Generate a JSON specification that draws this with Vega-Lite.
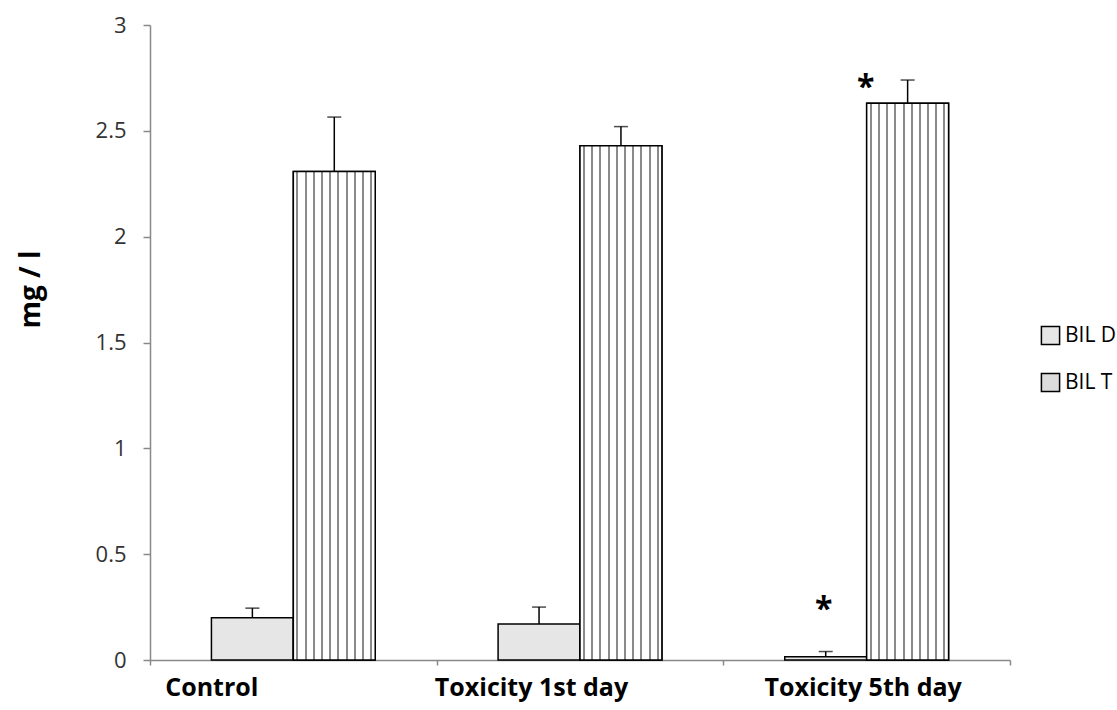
{
  "$schema": "https://vega.github.io/schema/vega-lite/v6.json",
  "width": 860,
  "height": 635,
  "autosize": {"type": "none"},
  "padding": {"left": 150, "top": 25, "right": 107, "bottom": 50},
  "background": "white",
  "config": {
    "view": {"stroke": null},
    "font": "Open Sans"
  },
  "data": {
    "values": [
      {"group": "Control", "series": "BIL D", "value": 0.2, "err_top": 0.245, "sig": "", "sig_y": null},
      {"group": "Control", "series": "BIL T", "value": 2.308, "err_top": 2.565, "sig": "", "sig_y": null},
      {"group": "Toxicity 1st day", "series": "BIL D", "value": 0.17, "err_top": 0.25, "sig": "", "sig_y": null},
      {"group": "Toxicity 1st day", "series": "BIL T", "value": 2.43, "err_top": 2.52, "sig": "", "sig_y": null},
      {"group": "Toxicity 5th day", "series": "BIL D", "value": 0.015, "err_top": 0.04, "sig": "*", "sig_y": 0.189},
      {"group": "Toxicity 5th day", "series": "BIL T", "value": 2.63, "err_top": 2.74, "sig": "*", "sig_y": 2.655}
    ]
  },
  "encoding": {
    "x": {
      "field": "group",
      "type": "nominal",
      "sort": ["Control", "Toxicity 1st day", "Toxicity 5th day"],
      "scale": {"paddingInner": 0, "paddingOuter": 0},
      "axis": {
        "title": null,
        "labelAngle": 0,
        "labelLimit": 0,
        "labelFont": "Open Sans",
        "labelFontSize": 25,
        "labelFontWeight": "bold",
        "labelColor": "#000000",
        "labelPadding": 10,
        "labelOffset": {"expr": "datum.label == 'Control' ? -82 : datum.label == 'Toxicity 1st day' ? -49 : -4"},
        "tickBand": "extent",
        "tickSize": 5,
        "tickColor": "#898989",
        "tickWidth": 1.5,
        "domainColor": "#898989",
        "domainWidth": 1.5
      }
    },
    "xOffset": {
      "field": "series",
      "type": "nominal",
      "sort": ["BIL D", "BIL T"],
      "scale": {"paddingInner": 0, "paddingOuter": 0.75}
    }
  },
  "layer": [
    {
      "mark": {"type": "bar", "stroke": "#000000", "strokeWidth": 1.5},
      "encoding": {
        "y": {
          "field": "value",
          "type": "quantitative",
          "scale": {"domain": [0, 3], "nice": false},
          "axis": {
            "values": [0, 0.5, 1, 1.5, 2, 2.5, 3],
            "format": "~g",
            "grid": false,
            "title": "mg / l",
            "titleFont": "Open Sans",
            "titleFontSize": 28,
            "titleFontWeight": "bold",
            "titleColor": "#000000",
            "titleAngle": -90,
            "titleX": -105,
            "titleY": 264,
            "titleAlign": "center",
            "titleBaseline": "bottom",
            "labelFont": "Open Sans",
            "labelFontSize": 22,
            "labelColor": "#333333",
            "labelPadding": 17,
            "tickSize": 7,
            "tickColor": "#898989",
            "tickWidth": 1.5,
            "domainColor": "#898989",
            "domainWidth": 1.5
          }
        },
        "fill": {
          "field": "series",
          "type": "nominal",
          "scale": {"domain": ["BIL D", "BIL T"], "range": ["#e6e6e6", "#dcdcdc"]},
          "legend": {
            "title": null,
            "orient": "none",
            "legendX": 890,
            "legendY": 300,
            "padding": 0,
            "symbolType": "square",
            "symbolSize": 330,
            "symbolStrokeColor": "#000000",
            "symbolStrokeWidth": 1.5,
            "labelFont": "Open Sans",
            "labelFontSize": 21,
            "labelColor": "#000000",
            "labelOffset": 4,
            "rowPadding": 22
          }
        }
      }
    },
    {
      "transform": [{"filter": "datum.series == 'BIL T'"}],
      "mark": {
        "type": "bar",
        "stroke": "#000000",
        "strokeWidth": 1.5,
        "fill": {
          "gradient": "linear", "x1": 0, "y1": 0, "x2": 1, "y2": 0,
          "stops": [
            {"offset": 0, "color": "#ffffff"},
            {"offset": 0.038, "color": "#ffffff"}, {"offset": 0.038, "color": "#8a8a8a"}, {"offset": 0.062, "color": "#8a8a8a"}, {"offset": 0.062, "color": "#ffffff"},
            {"offset": 0.138, "color": "#ffffff"}, {"offset": 0.138, "color": "#8a8a8a"}, {"offset": 0.162, "color": "#8a8a8a"}, {"offset": 0.162, "color": "#ffffff"},
            {"offset": 0.238, "color": "#ffffff"}, {"offset": 0.238, "color": "#8a8a8a"}, {"offset": 0.262, "color": "#8a8a8a"}, {"offset": 0.262, "color": "#ffffff"},
            {"offset": 0.338, "color": "#ffffff"}, {"offset": 0.338, "color": "#8a8a8a"}, {"offset": 0.362, "color": "#8a8a8a"}, {"offset": 0.362, "color": "#ffffff"},
            {"offset": 0.438, "color": "#ffffff"}, {"offset": 0.438, "color": "#8a8a8a"}, {"offset": 0.462, "color": "#8a8a8a"}, {"offset": 0.462, "color": "#ffffff"},
            {"offset": 0.538, "color": "#ffffff"}, {"offset": 0.538, "color": "#8a8a8a"}, {"offset": 0.562, "color": "#8a8a8a"}, {"offset": 0.562, "color": "#ffffff"},
            {"offset": 0.638, "color": "#ffffff"}, {"offset": 0.638, "color": "#8a8a8a"}, {"offset": 0.662, "color": "#8a8a8a"}, {"offset": 0.662, "color": "#ffffff"},
            {"offset": 0.738, "color": "#ffffff"}, {"offset": 0.738, "color": "#8a8a8a"}, {"offset": 0.762, "color": "#8a8a8a"}, {"offset": 0.762, "color": "#ffffff"},
            {"offset": 0.838, "color": "#ffffff"}, {"offset": 0.838, "color": "#8a8a8a"}, {"offset": 0.862, "color": "#8a8a8a"}, {"offset": 0.862, "color": "#ffffff"},
            {"offset": 0.938, "color": "#ffffff"}, {"offset": 0.938, "color": "#8a8a8a"}, {"offset": 0.962, "color": "#8a8a8a"}, {"offset": 0.962, "color": "#ffffff"},
            {"offset": 1, "color": "#ffffff"}
          ]
        }
      },
      "encoding": {
        "y": {"field": "value", "type": "quantitative"}
      }
    },
    {
      "mark": {"type": "rule", "color": "#000000", "strokeWidth": 1.5},
      "encoding": {
        "y": {"field": "value", "type": "quantitative"},
        "y2": {"field": "err_top"}
      }
    },
    {
      "mark": {"type": "tick", "color": "#000000", "thickness": 1.5, "size": 14},
      "encoding": {
        "y": {"field": "err_top", "type": "quantitative"}
      }
    },
    {
      "transform": [{"filter": "datum.sig == '*' && datum.series == 'BIL D'"}],
      "mark": {"type": "text", "fontSize": 32, "fontWeight": "bold", "font": "Open Sans", "baseline": "alphabetic", "align": "center", "dx": -2, "color": "#000000"},
      "encoding": {
        "y": {"field": "sig_y", "type": "quantitative"},
        "text": {"field": "sig"}
      }
    },
    {
      "transform": [{"filter": "datum.sig == '*' && datum.series == 'BIL T'"}],
      "mark": {"type": "text", "fontSize": 32, "fontWeight": "bold", "font": "Open Sans", "baseline": "alphabetic", "align": "center", "dx": -42, "color": "#000000"},
      "encoding": {
        "y": {"field": "sig_y", "type": "quantitative"},
        "text": {"field": "sig"}
      }
    }
  ]
}
